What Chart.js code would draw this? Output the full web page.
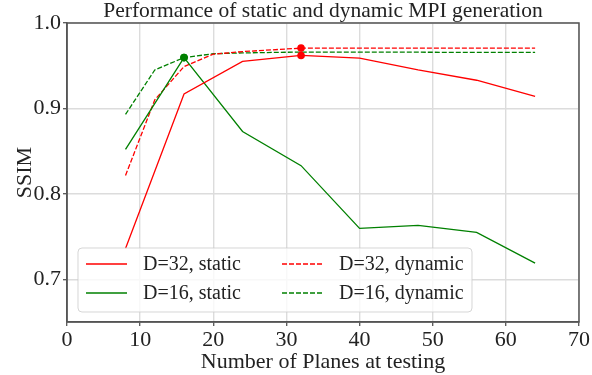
<!DOCTYPE html>
<html>
<head>
<meta charset="utf-8">
<script src="https://cdn.jsdelivr.net/npm/chart.js@4/dist/chart.umd.min.js"></script>
<style>
  html, body { margin: 0; padding: 0; background: #fff; }
  #wrap { width: 592px; height: 375px; }
</style>
</head>
<body>
<div id="wrap"><canvas id="chart" width="592" height="375"></canvas></div>
<script>
const chartTitle = 'Performance of static and dynamic MPI generation';
const xLabel = 'Number of Planes at testing';
const yLabel = 'SSIM';
const xTicks = [0, 10, 20, 30, 40, 50, 60, 70];
const yTicks = [0.7, 0.8, 0.9, 1.0];

const staticPlanes = [8, 16, 24, 32, 40, 48, 56, 64];
const dynamicPlanes = [8, 12, 16, 20, 24, 32, 40, 48, 56, 64];

const d32Static = [0.736, 0.917, 0.955, 0.962, 0.959, 0.945, 0.933, 0.914];
const d16Static = [0.852, 0.9595, 0.873, 0.833, 0.7595, 0.763, 0.755, 0.719];
const d32Dynamic = [0.8215, 0.910, 0.949, 0.9635, 0.9665, 0.9706, 0.9705, 0.9705, 0.9705, 0.9705];
const d16Dynamic = [0.893, 0.945, 0.9595, 0.964, 0.965, 0.966, 0.966, 0.9658, 0.9656, 0.9655];

// planes where the best result is marked with a dot
const best32 = 32;
const best16 = 16;

const RED = '#ff0000';
const GREEN = '#008000';
const SERIF = '"Liberation Serif", "Times New Roman", serif';

function toPoints(xs, ys) {
  return xs.map((x, i) => ({ x, y: ys[i] }));
}

function series(label, xs, ys, color, dashed, bestX) {
  return {
    label,
    data: toPoints(xs, ys),
    borderColor: color,
    backgroundColor: color,
    borderWidth: 1.3,
    borderDash: dashed ? [5, 2] : [],
    pointRadius: ctx => (xs[ctx.dataIndex] === bestX ? 3.8 : 0),
    pointBorderWidth: 0,
    pointHoverRadius: 0,
    tension: 0,
    fill: false
  };
}

const frameAndTitle = {
  id: 'frameAndTitle',
  afterDraw(chart) {
    const { ctx, chartArea: a } = chart;
    ctx.save();
    ctx.strokeStyle = '#555';
    ctx.lineWidth = 1.5;
    ctx.strokeRect(a.left, a.top, a.right - a.left, a.bottom - a.top);
    ctx.fillStyle = '#222';
    ctx.font = '21.5px ' + SERIF;
    ctx.textAlign = 'center';
    ctx.textBaseline = 'middle';
    ctx.fillText(chartTitle, (a.left + a.right) / 2, 11);
    ctx.restore();
  }
};

const boxLegend = {
  id: 'boxLegend',
  afterDraw(chart) {
    const { ctx } = chart;
    const ds = chart.data.datasets;
    const box = { x: 78, y: 248, w: 394, h: 64 };
    ctx.save();
    ctx.beginPath();
    ctx.roundRect(box.x, box.y, box.w, box.h, 4);
    ctx.fillStyle = 'rgba(255,255,255,0.8)';
    ctx.fill();
    ctx.strokeStyle = 'rgba(204,204,204,0.8)';
    ctx.lineWidth = 1;
    ctx.stroke();
    ctx.font = '20px ' + SERIF;
    ctx.textBaseline = 'middle';
    ctx.fillStyle = '#222';
    const cols = [86, 282];
    const rows = [264, 293];
    // column 0: static, column 1: dynamic
    [[0, 1], [2, 3]].forEach((col, c) => {
      col.forEach((idx, r) => {
        const d = ds[idx];
        const x0 = cols[c];
        const y = rows[r];
        ctx.beginPath();
        ctx.setLineDash(d.borderDash);
        ctx.strokeStyle = d.borderColor;
        ctx.lineWidth = 1.3;
        ctx.moveTo(x0, y);
        ctx.lineTo(x0 + 41, y);
        ctx.stroke();
        ctx.setLineDash([]);
        ctx.fillText(d.label, x0 + 57, y + 1);
      });
    });
    ctx.restore();
  }
};

new Chart(document.getElementById('chart'), {
  type: 'line',
  data: {
    datasets: [
      series('D=32, static', staticPlanes, d32Static, RED, false, best32),
      series('D=16, static', staticPlanes, d16Static, GREEN, false, best16),
      series('D=32, dynamic', dynamicPlanes, d32Dynamic, RED, true, best32),
      series('D=16, dynamic', dynamicPlanes, d16Dynamic, GREEN, true, best16)
    ]
  },
  options: {
    responsive: false,
    animation: false,
    events: [],
    layout: { padding: { top: 23, right: 13, left: 0, bottom: 0 } },
    plugins: {
      legend: { display: false },
      title: { display: false },
      tooltip: { enabled: false }
    },
    scales: {
      x: {
        type: 'linear',
        min: 0,
        max: 70,
        afterFit: s => { s.height = 53; },
        afterBuildTicks: s => { s.ticks = xTicks.map(v => ({ value: v })); },
        ticks: {
          color: '#222',
          font: { family: SERIF, size: 22 },
          padding: 1,
          maxRotation: 0,
          callback: v => String(v)
        },
        grid: { color: '#dcdcdc', lineWidth: 1.4, tickColor: '#555', tickLength: 4, tickWidth: 1.3 },
        border: { color: '#555', width: 1.5 },
        title: {
          display: true,
          text: xLabel,
          color: '#222',
          font: { family: SERIF, size: 22 },
          padding: { top: 0, bottom: 0 }
        }
      },
      y: {
        type: 'linear',
        min: 0.65,
        max: 1.0,
        afterFit: s => { s.width = 67; },
        afterBuildTicks: s => { s.ticks = yTicks.map(v => ({ value: v })); },
        ticks: {
          color: '#222',
          font: { family: SERIF, size: 22 },
          padding: 2,
          callback: v => v.toFixed(1)
        },
        grid: { color: '#dcdcdc', lineWidth: 1.4, tickColor: '#555', tickLength: 4, tickWidth: 1.3 },
        border: { color: '#555', width: 1.5 },
        title: {
          display: true,
          text: yLabel,
          color: '#222',
          font: { family: SERIF, size: 22 },
          padding: { top: 12, bottom: 0 }
        }
      }
    }
  },
  plugins: [frameAndTitle, boxLegend]
});
</script>
</body>
</html>
